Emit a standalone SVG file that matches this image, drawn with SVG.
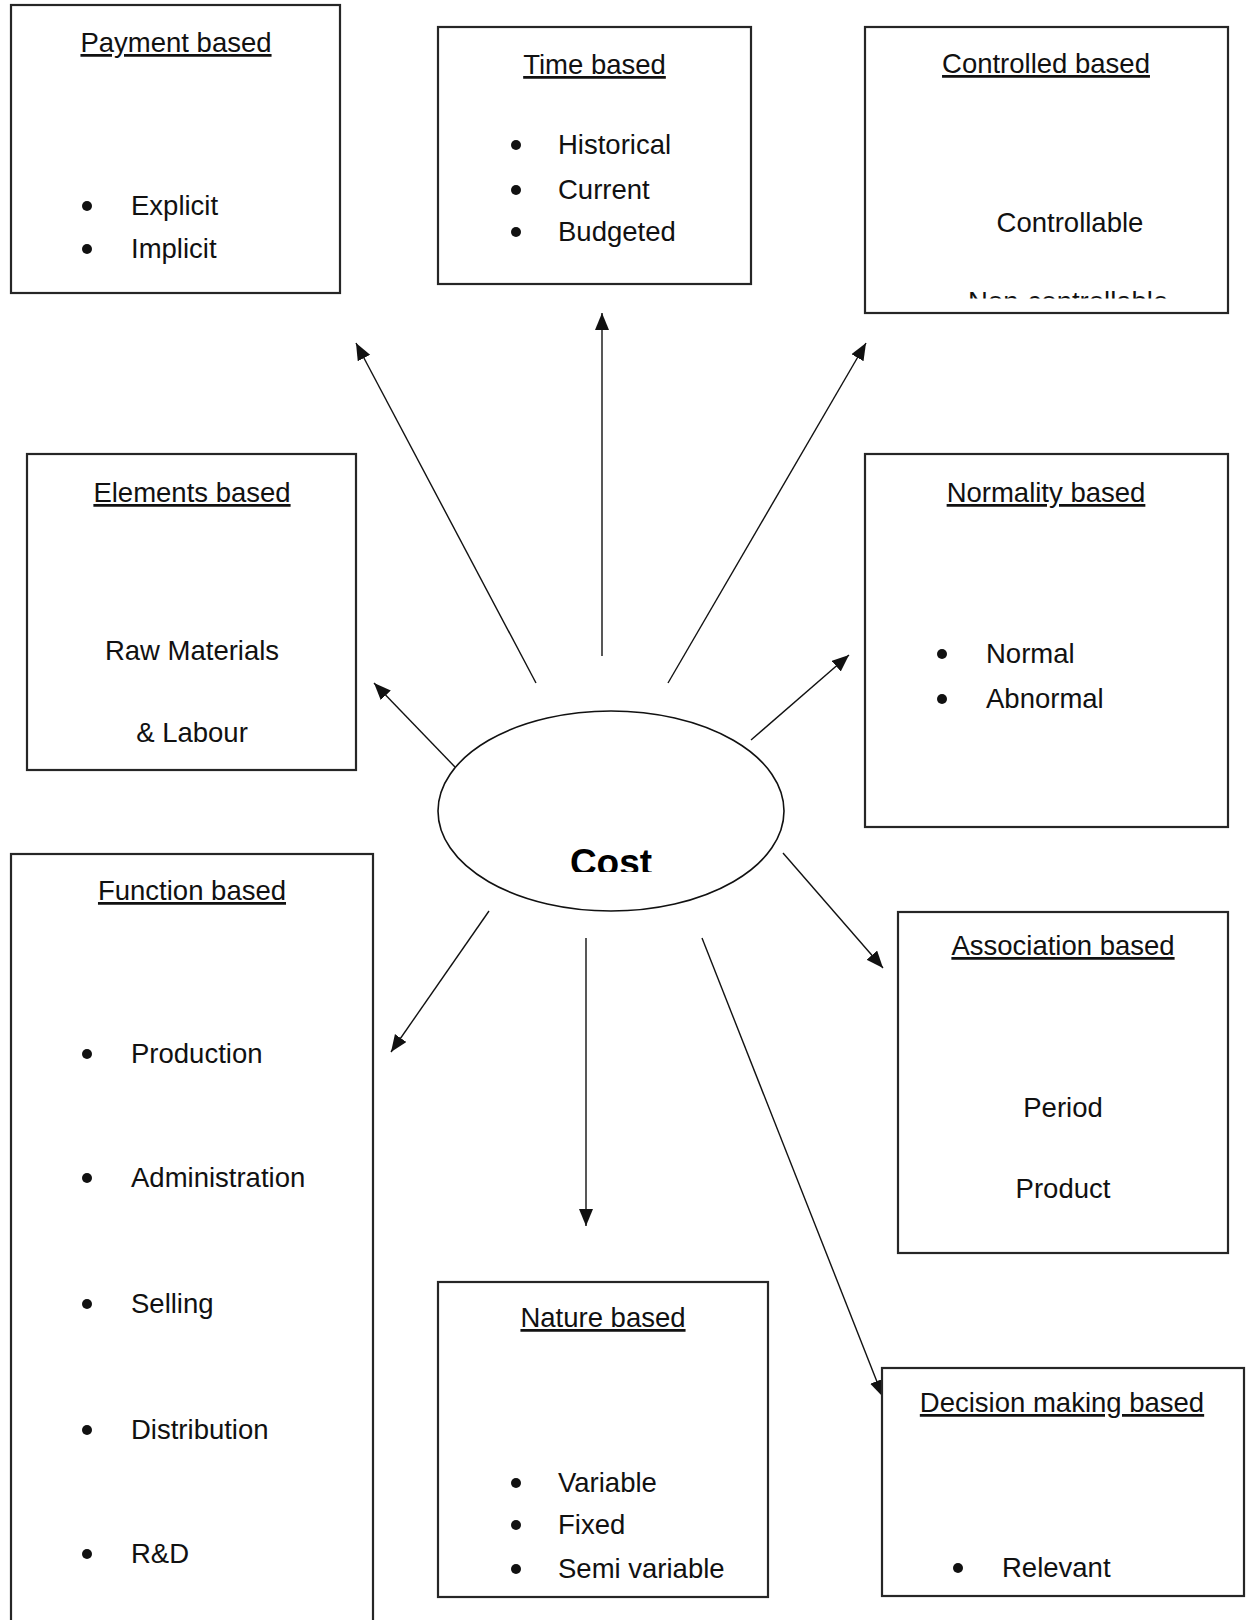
<svg xmlns="http://www.w3.org/2000/svg" width="1246" height="1620" viewBox="0 0 1246 1620">
<style>
  .box { fill: #ffffff; stroke: #262626; stroke-width: 2.2; }
  .t { font-family: "Liberation Sans", Arial, sans-serif; font-size: 27.5px; fill: #111111; }
  .title { text-anchor: middle; text-decoration: underline; }
  .mid { text-anchor: middle; }
  .dot { fill: #111111; }
  .conn { stroke: #111111; stroke-width: 1.4; fill: none; marker-end: url(#arr); }
</style>
<defs>
  <marker id="arr" markerUnits="userSpaceOnUse" markerWidth="20" markerHeight="16" refX="17" refY="7" orient="auto">
    <path d="M0,0 L17,7 L0,14 z" fill="#111111"/>
  </marker>
  <clipPath id="clipNon"><rect x="860" y="280" width="370" height="18.5"/></clipPath>
  <clipPath id="clipCost"><rect x="540" y="830" width="150" height="42"/></clipPath>
</defs>
<rect width="1246" height="1620" fill="#ffffff"/>

<g id="connectors">
  <line class="conn" x1="536" y1="683" x2="356" y2="343"/>
  <line class="conn" x1="602" y1="656" x2="602" y2="313"/>
  <line class="conn" x1="668" y1="683" x2="866" y2="343"/>
  <line class="conn" x1="455" y1="767" x2="374" y2="683"/>
  <line class="conn" x1="751" y1="740" x2="849" y2="655"/>
  <line class="conn" x1="489" y1="911" x2="391" y2="1052"/>
  <line class="conn" x1="586" y1="938" x2="586" y2="1226"/>
  <line class="conn" x1="783" y1="853" x2="883" y2="968"/>
  <line class="conn" x1="702" y1="938" x2="883" y2="1397"/>
</g>

<g id="node-cost">
  <ellipse cx="611" cy="811" rx="173" ry="100" fill="#ffffff" stroke="#111111" stroke-width="1.6"/>
  <text class="t mid" x="611" y="875" clip-path="url(#clipCost)" style="font-size:37px;font-weight:bold;fill:#000">Cost</text>
</g>

<g id="node-payment">
  <rect class="box" x="11" y="5" width="329" height="288"/>
  <text class="t title" x="176" y="52">Payment based</text>
  <circle class="dot" cx="87" cy="206" r="5"/>
  <text class="t" x="131" y="215">Explicit</text>
  <circle class="dot" cx="87" cy="249" r="5"/>
  <text class="t" x="131" y="258">Implicit</text>
</g>

<g id="node-time">
  <rect class="box" x="438" y="27" width="313" height="257"/>
  <text class="t title" x="594.5" y="74">Time based</text>
  <circle class="dot" cx="516" cy="145" r="5"/>
  <text class="t" x="558" y="154">Historical</text>
  <circle class="dot" cx="516" cy="190" r="5"/>
  <text class="t" x="558" y="199">Current</text>
  <circle class="dot" cx="516" cy="232" r="5"/>
  <text class="t" x="558" y="241">Budgeted</text>
</g>

<g id="node-controlled">
  <rect class="box" x="865" y="27" width="363" height="286"/>
  <text class="t title" x="1046" y="73">Controlled based</text>
  <text class="t mid" x="1070" y="232">Controllable</text>
  <text class="t" x="968" y="311" clip-path="url(#clipNon)">Non-controllable</text>
</g>

<g id="node-elements">
  <rect class="box" x="27" y="454" width="329" height="316"/>
  <text class="t title" x="192" y="502">Elements based</text>
  <text class="t mid" x="192" y="660">Raw Materials</text>
  <text class="t mid" x="192" y="742">&amp; Labour</text>
</g>

<g id="node-normality">
  <rect class="box" x="865" y="454" width="363" height="373"/>
  <text class="t title" x="1046" y="502">Normality based</text>
  <circle class="dot" cx="942" cy="654" r="5"/>
  <text class="t" x="986" y="663">Normal</text>
  <circle class="dot" cx="942" cy="699" r="5"/>
  <text class="t" x="986" y="708">Abnormal</text>
</g>

<g id="node-function">
  <rect class="box" x="11" y="854" width="362" height="800"/>
  <text class="t title" x="192" y="900">Function based</text>
  <circle class="dot" cx="87" cy="1054" r="5"/>
  <text class="t" x="131" y="1063">Production</text>
  <circle class="dot" cx="87" cy="1178" r="5"/>
  <text class="t" x="131" y="1187">Administration</text>
  <circle class="dot" cx="87" cy="1304" r="5"/>
  <text class="t" x="131" y="1313">Selling</text>
  <circle class="dot" cx="87" cy="1430" r="5"/>
  <text class="t" x="131" y="1439">Distribution</text>
  <circle class="dot" cx="87" cy="1554" r="5"/>
  <text class="t" x="131" y="1563">R&amp;D</text>
</g>

<g id="node-association">
  <rect class="box" x="898" y="912" width="330" height="341"/>
  <text class="t title" x="1063" y="955">Association based</text>
  <text class="t mid" x="1063" y="1117">Period</text>
  <text class="t mid" x="1063" y="1198">Product</text>
</g>

<g id="node-nature">
  <rect class="box" x="438" y="1282" width="330" height="315"/>
  <text class="t title" x="603" y="1327">Nature based</text>
  <circle class="dot" cx="516" cy="1483" r="5"/>
  <text class="t" x="558" y="1492">Variable</text>
  <circle class="dot" cx="516" cy="1525" r="5"/>
  <text class="t" x="558" y="1534">Fixed</text>
  <circle class="dot" cx="516" cy="1569" r="5"/>
  <text class="t" x="558" y="1578">Semi variable</text>
</g>

<g id="node-decision">
  <rect class="box" x="882" y="1368" width="362" height="228"/>
  <text class="t title" x="1062" y="1412">Decision making based</text>
  <circle class="dot" cx="958" cy="1568" r="5"/>
  <text class="t" x="1002" y="1577">Relevant</text>
</g>
</svg>
